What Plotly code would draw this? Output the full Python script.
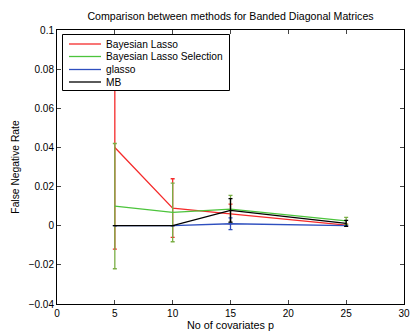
import plotly.graph_objects as go

p = [5, 10, 15, 25]
names = ["Bayesian Lasso", "Bayesian Lasso Selection", "glasso", "MB"]
colors = ["#f52a2a", "#4cc43c", "#2e4fbf", "#000000"]
err_colors = ["#f52a2a", "#7aae45", "#2e4fbf", "#000000"]
bl = [0.040, 0.0090, 0.0060, 0.0003]
bl_err = [0.052, 0.0150, 0.0050, 0.0005]
bls = [0.010, 0.0068, 0.0085, 0.0025]
bls_err = [0.032, 0.0150, 0.0070, 0.0018]
gl = [0.0, 0.0, 0.0010, 0.0]
gl_err = [0.0, 0.0, 0.0030, 0.0]
mb = [0.0, 0.0, 0.0078, 0.0012]
mb_err = [0.0, 0.0, 0.0060, 0.0015]

series = [bl, bls, gl, mb]
errs = [bl_err, bls_err, gl_err, mb_err]

W, H = 410, 331
ML, MR, MT, MB_ = 57, 6, 30, 27
pw, ph = W - ML - MR, H - MT - MB_

def px(x):
    return (x - ML) / pw

def py(y):
    return 1 - (y - MT) / ph

fig = go.Figure()
for n, c, ec, y, e in zip(names, colors, err_colors, series, errs):
    fig.add_trace(go.Scatter(
        x=p, y=y, name=n, mode="lines", showlegend=False,
        line=dict(color=c, width=1.3),
        error_y=dict(type="data", array=e, visible=True, color=ec, thickness=1.3, width=2),
    ))

# custom legend (MATLAB-like compact box)
shapes = [dict(type="rect", xref="paper", yref="paper",
               x0=px(62.5), x1=px(229.5), y0=py(90.5), y1=py(34.5),
               line=dict(color="black", width=1), fillcolor="white", layer="above")]
annotations = []
rows = [44, 56.5, 69.5, 82]
for n, c, yy in zip(names, colors, rows):
    shapes.append(dict(type="line", xref="paper", yref="paper",
                       x0=px(69), x1=px(101), y0=py(yy), y1=py(yy),
                       line=dict(color=c, width=1.3), layer="above"))
    annotations.append(dict(text=n, xref="paper", yref="paper", x=px(104), y=py(yy),
                            xanchor="left", yanchor="middle", showarrow=False,
                            font=dict(size=10.2)))

font = dict(family="Liberation Sans, Arial, sans-serif", size=10, color="#000")
fig.update_layout(
    width=W, height=H,
    margin=dict(l=ML, r=MR, t=MT, b=MB_, autoexpand=False),
    paper_bgcolor="white", plot_bgcolor="white",
    font=font,
    title=dict(text="Comparison between methods for Banded Diagonal Matrices",
               x=0.5, xref="paper", xanchor="center", y=1 - 16/H, yanchor="middle",
               font=dict(size=10.6)),
    showlegend=False,
    shapes=shapes,
    annotations=annotations,
    xaxis=dict(range=[0, 30], tickvals=[0, 5, 10, 15, 20, 25, 30],
               ticks="inside", ticklen=4, showline=True, linecolor="black",
               linewidth=1, mirror="ticks", showgrid=False, zeroline=False,
               automargin=False,
               title=dict(text="No of covariates p", standoff=3, font=dict(size=10.8))),
    yaxis=dict(range=[-0.04, 0.1], tickvals=[-0.04, -0.02, 0, 0.02, 0.04, 0.06, 0.08, 0.1],
               ticktext=["−0.04", "−0.02", "0", "0.02", "0.04", "0.06", "0.08", "0.1"],
               ticks="inside", ticklen=4, showline=True, linecolor="black",
               linewidth=1, mirror="ticks", showgrid=False, zeroline=False,
               automargin=False,
               title=dict(text="False Negative Rate", standoff=7, font=dict(size=10.3))),
)
fig.write_html("out.html")
